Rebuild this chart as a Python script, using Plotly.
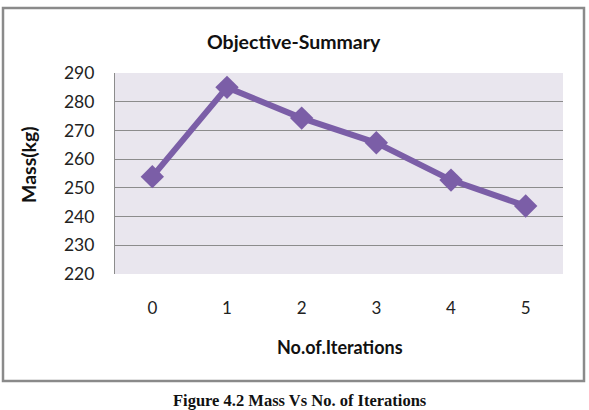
import plotly.graph_objects as go

iterations = [0, 1, 2, 3, 4, 5]
mass_kg = [253.9, 285.0, 274.3, 265.7, 252.7, 243.7]
y_ticks = [220, 230, 240, 250, 260, 270, 280, 290]

W, H = 589, 410
L, R, T, B = 115, 563, 73, 274
pw, ph = R - L, B - T

def px(x):
    return (x - L) / pw

def py(y):
    return (B - y) / ph

FONT = "Lato, Noto Sans, sans-serif"
PURPLE = "#7B5EA7"

fig = go.Figure()
fig.add_trace(go.Scatter(
    x=iterations, y=mass_kg, mode="lines+markers",
    line=dict(color=PURPLE, width=6),
    marker=dict(symbol="diamond", size=18, color=PURPLE),
    showlegend=False, hoverinfo="skip",
))

fig.update_layout(
    width=W, height=H,
    margin=dict(l=L, r=W - R, t=T, b=H - B),
    paper_bgcolor="white",
    plot_bgcolor="#E9E6EE",
    font=dict(family=FONT, color="#1a1a1a"),
)
fig.update_xaxes(
    range=[-0.5, 5.5], tickvals=iterations, ticktext=[str(i) for i in iterations],
    showgrid=False, zeroline=False, showline=False,
    tickfont=dict(size=17, family=FONT, color="#222"),
    ticklabelstandoff=22,
)
fig.update_yaxes(
    range=[220, 290], tickvals=y_ticks,
    showgrid=True, gridcolor="#8C8C8C", gridwidth=1.2,
    zeroline=False, showline=True, linecolor="#8C8C8C", linewidth=1.2,
    tickfont=dict(size=17.5, family=FONT, color="#222"),
    ticklabelstandoff=16,
)

# outer chart border
fig.add_shape(type="rect", xref="paper", yref="paper",
              x0=px(3), x1=px(584), y0=py(381), y1=py(8),
              line=dict(color="#8A8A8A", width=2.5), fillcolor="rgba(0,0,0,0)",
              layer="below")

ann = [
    dict(text="Objective-Summary", x=px(294), y=py(41), size=19.5, family=FONT, bold=True, angle=0),
    dict(text="No.of.Iterations", x=px(340), y=py(347), size=18, family=FONT, bold=True, angle=0),
    dict(text="Mass(kg)", x=px(28), y=py(165), size=19.5, family=FONT, bold=True, angle=-90),
    dict(text="Figure 4.2 Mass Vs No. of Iterations", x=px(300), y=py(400), size=16.5,
         family="Liberation Serif, Times New Roman, serif", bold=True, angle=0),
]
for a in ann:
    fig.add_annotation(
        text=f"<b>{a['text']}</b>" if a["bold"] else a["text"],
        xref="paper", yref="paper", x=a["x"], y=a["y"],
        xanchor="center", yanchor="middle", showarrow=False, textangle=a["angle"],
        font=dict(size=a["size"], family=a["family"], color="#111"),
    )

fig.write_html("out.html")
